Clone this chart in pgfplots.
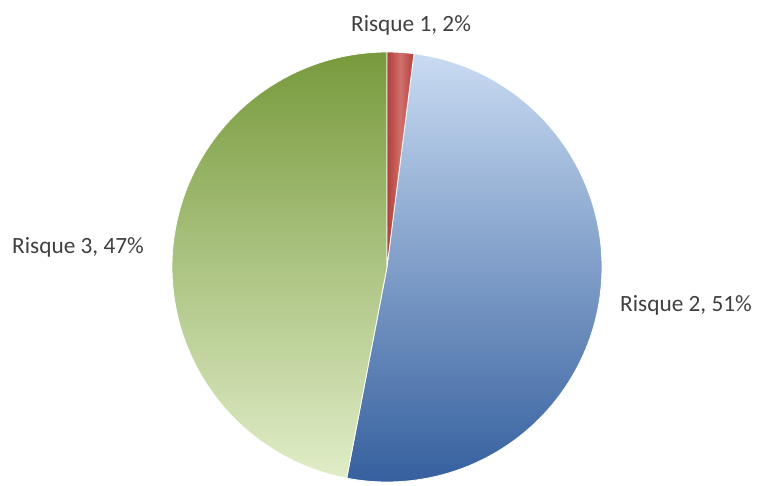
\documentclass[border=0pt]{standalone}
\usepackage{pgfplots}
\pgfplotsset{compat=1.18}
\usepackage{fontspec}
\setmainfont{Carlito}
\definecolor{txt}{HTML}{404040}
\definecolor{blueA}{HTML}{C9DBF2}
\definecolor{blueB}{HTML}{35609E}
\definecolor{greenA}{HTML}{789A3C}
\definecolor{greenB}{HTML}{E0EDC8}
\definecolor{redA}{HTML}{D0706C}
\definecolor{redB}{HTML}{B0403C}
% pie values (percent), clockwise from 12 o'clock
\def\vA{2}\def\vB{51}\def\vC{47}
\begin{document}
\begin{tikzpicture}
\begin{axis}[
  name=ax,
  width=757pt, height=485pt, scale only axis,
  xmin=0, xmax=757, ymin=0, ymax=485,
  axis lines=none, clip=false,
]
\pgfmathsetmacro{\aA}{90}
\pgfmathsetmacro{\aB}{90-3.6*\vA}
\pgfmathsetmacro{\aC}{\aB-3.6*\vB}
\pgfmathsetmacro{\aD}{\aC-3.6*\vC}
% Risque 2
\addplot[draw=white, line width=0.8pt, top color=blueA, bottom color=blueB, domain=\aB:\aC, samples=120, variable=\t]
  ({387+215*cos(\t)},{218+215*sin(\t)}) -- (axis cs:387,218) -- cycle;
% Risque 3
\addplot[draw=white, line width=0.8pt, top color=greenA, bottom color=greenB, domain=\aC:\aD, samples=120, variable=\t]
  ({387+215*cos(\t)},{218+215*sin(\t)}) -- (axis cs:387,218) -- cycle;
% Risque 1
\addplot[draw=white, line width=0.8pt, left color=redB, right color=redB, middle color=redA, domain=\aA:\aB, samples=20, variable=\t]
  ({387+215*cos(\t)},{218+215*sin(\t)}) -- (axis cs:387,218) -- cycle;
\node[text=txt, font=\fontsize{23.3}{28}\selectfont] at (axis cs:411,460) {Risque 1, 2\%};
\node[text=txt, font=\fontsize{23.3}{28}\selectfont, anchor=west, inner sep=0pt] at (axis cs:620,180) {Risque 2, 51\%};
\node[text=txt, font=\fontsize{23.3}{28}\selectfont, anchor=west, inner sep=0pt] at (axis cs:12,238) {Risque 3, 47\%};
\end{axis}
\pgfresetboundingbox
\path (ax.south west) rectangle (ax.north east);
\end{tikzpicture}
\end{document}
